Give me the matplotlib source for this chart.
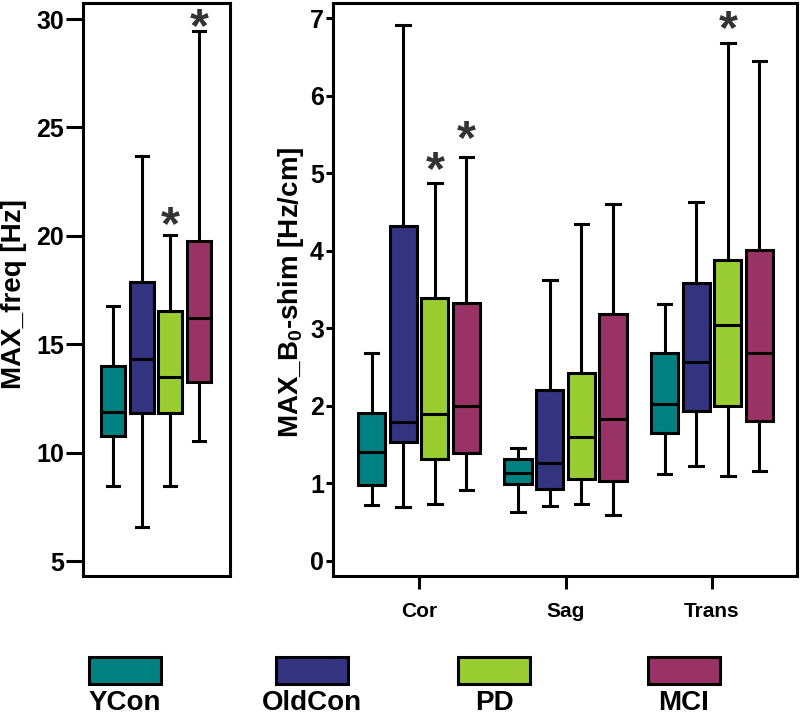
import matplotlib
matplotlib.use('Agg')
import matplotlib.pyplot as plt
from matplotlib.patches import Rectangle

plt.rcParams['font.family'] = ['Liberation Sans', 'DejaVu Sans']
plt.rcParams['font.weight'] = 'bold'
plt.rcParams['mathtext.fontset'] = 'custom'
plt.rcParams['mathtext.rm'] = 'Liberation Sans:bold'

groups = ['YCon', 'OldCon', 'PD', 'MCI']
colors = ['#008080', '#333380', '#9ACD32', '#993366']

# left panel: MAX_freq [Hz], one box per group
freq_whislo = [8.46, 6.57, 8.46, 10.54]
freq_q1 = [10.77, 11.83, 11.83, 13.26]
freq_med = [11.87, 14.32, 13.49, 16.21]
freq_q3 = [14.0, 17.87, 16.53, 19.76]
freq_whishi = [16.76, 23.68, 20.04, 29.45]

# right panel: MAX_B0-shim [Hz/cm], rows = direction, cols = group
directions = ['Cor', 'Sag', 'Trans']
shim_whislo = [[0.72, 0.70, 0.74, 0.91], [0.63, 0.71, 0.73, 0.59], [1.12, 1.22, 1.10, 1.16]]
shim_q1 = [[0.98, 1.53, 1.32, 1.39], [0.99, 0.93, 1.06, 1.03], [1.65, 1.94, 2.00, 1.81]]
shim_med = [[1.40, 1.79, 1.90, 2.00], [1.14, 1.27, 1.60, 1.83], [2.02, 2.57, 3.05, 2.69]]
shim_q3 = [[1.91, 4.32, 3.39, 3.33], [1.32, 2.21, 2.42, 3.19], [2.68, 3.59, 3.89, 4.01]]
shim_whishi = [[2.69, 6.92, 4.88, 5.21], [1.46, 3.62, 4.35, 4.61], [3.31, 4.63, 6.68, 6.45]]

# significance stars: group index (left), (direction, group) (right)
freq_stars = [2, 3]
shim_stars = [(0, 2), (0, 3), (2, 2)]
# gap in pixels between whisker cap and star centre
freq_star_gap = [22, 16]
shim_star_gap = [25, 30, 26]

LW = 2.2
STAR_SIZE = 35


def draw_boxes(ax, stats, positions, width):
    b = ax.bxp(stats, positions=positions, widths=width, capwidths=width * 0.5,
               patch_artist=True, showfliers=False, manage_ticks=False,
               boxprops=dict(linewidth=LW, edgecolor='black'),
               medianprops=dict(linewidth=LW, color='black'),
               whiskerprops=dict(linewidth=LW, color='black'),
               capprops=dict(linewidth=LW, color='black'))
    for patch, c in zip(b['boxes'], colors * (len(stats) // len(colors))):
        patch.set_facecolor(c)


def star(ax, x, y, gap):
    # baseline sits ~26 px below the asterisk centre at this size
    ax.annotate('*', xy=(x, y), xytext=(0, gap - 26), textcoords='offset pixels',
                ha='center', va='baseline', fontsize=STAR_SIZE, color='#333333',
                annotation_clip=False)


fig = plt.figure(figsize=(8, 7.16), dpi=100)
axL = fig.add_axes([83 / 800, 140 / 716, 147 / 800, 573 / 716])
axR = fig.add_axes([333 / 800, 140 / 716, 464 / 800, 573 / 716])

# ---- left panel
stats = []
for i in range(len(groups)):
    stats.append(dict(whislo=freq_whislo[i], q1=freq_q1[i], med=freq_med[i],
                      q3=freq_q3[i], whishi=freq_whishi[i]))
posL = list(range(len(groups)))
draw_boxes(axL, stats, posL, 0.84)
for k, g in enumerate(freq_stars):
    star(axL, posL[g], freq_whishi[g], freq_star_gap[k])

axL.set_xlim(-1.045, 4.08)
axL.set_ylim(4.31, 30.74)
axL.set_yticks([5, 10, 15, 20, 25, 30])
axL.set_xticks([])
axL.tick_params(axis='y', length=12, width=LW, pad=1.5, labelsize=18)

# ---- right panel
step = 0.216
stats = []
posR = []
for d in range(len(directions)):
    for i in range(len(groups)):
        stats.append(dict(whislo=shim_whislo[d][i], q1=shim_q1[d][i], med=shim_med[d][i],
                          q3=shim_q3[d][i], whishi=shim_whishi[d][i]))
        posR.append(d + (i - 1.5) * step)
draw_boxes(axR, stats, posR, 0.186)
for k, (d, g) in enumerate(shim_stars):
    star(axR, d + (g - 1.5) * step, shim_whishi[d][g], shim_star_gap[k])

axR.set_xlim(-0.587, 2.58)
axR.set_ylim(-0.194, 7.2)
axR.set_yticks(range(8))
axR.set_xticks(range(len(directions)))
axR.set_xticklabels(directions)
axR.tick_params(axis='y', length=5, width=LW, pad=1.5, labelsize=18)
axR.tick_params(axis='x', length=9, width=LW, pad=10, labelsize=15)

for ax in (axL, axR):
    for s in ax.spines.values():
        s.set_linewidth(LW)

fig.text(14 / 800, 1 - 294 / 716, 'MAX_freq [Hz]', rotation=90,
         ha='center', va='center', fontsize=20)
fig.text(291 / 800, 1 - 292 / 716, r'MAX_B$_\mathrm{0}$-shim [Hz/cm]', rotation=90,
         ha='center', va='center', fontsize=20)

# ---- legend along the bottom
leg_x = [89, 276, 458, 648]
for x, c, name in zip(leg_x, colors, groups):
    fig.add_artist(Rectangle((x / 800, 32 / 716), 72 / 800, 27 / 716,
                             transform=fig.transFigure, facecolor=c,
                             edgecolor='black', linewidth=LW))
    fig.text((x + 36) / 800, 1 - 690 / 716, name, ha='center', va='top', fontsize=20)

fig.savefig('out.png', dpi=100)
